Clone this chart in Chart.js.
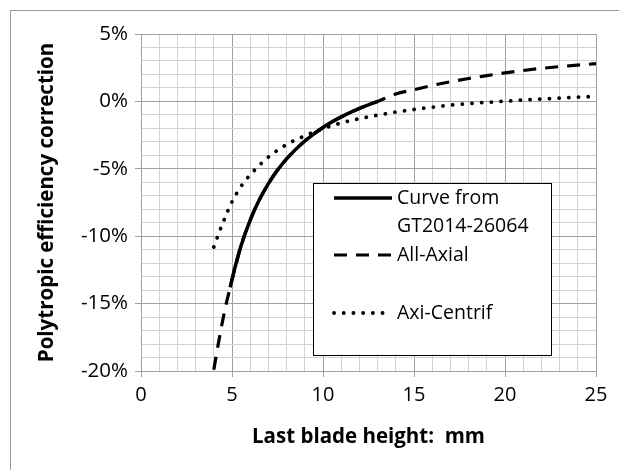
<!DOCTYPE html>
<html>
<head>
<meta charset="utf-8">
<script src="https://cdn.jsdelivr.net/npm/chart.js@4/dist/chart.umd.min.js"></script>
<style>
  html, body { margin: 0; padding: 0; background: #fff; overflow: hidden; }
  canvas { display: block; }
</style>
</head>
<body>
<canvas id="effChart" width="619" height="470"></canvas>
<script>
// values in percent
const curveX = [4.9, 5, 5.5, 6, 6.5, 7, 7.5, 8, 9, 10, 11, 12, 13];
const curveY = [-13.8, -13.2, -10.7, -8.8, -7.3, -6.1, -5.1, -4.26, -2.94, -1.93, -1.15, -0.52, 0];

const axialX = [4, 4.3, 4.6, 4.9, 5.5, 6, 7, 8, 9, 10, 11, 12, 13, 14, 15, 16, 17, 18, 19, 20, 21, 22, 23, 24, 25];
const axialY = [-19.9, -17.6, -15.5, -13.8, -10.7, -8.8, -6.1, -4.26, -2.94, -1.93, -1.15, -0.52, 0, 0.55, 0.86, 1.18, 1.46, 1.70, 1.91, 2.11, 2.29, 2.45, 2.58, 2.69, 2.8];

const centrifX = [4, 4.5, 5, 5.5, 6, 7, 8, 9, 10, 11, 12, 13, 14, 15, 16, 17, 18, 19, 20, 21, 22, 23, 24, 25];
const centrifY = [-10.8, -9.0, -7.45, -6.3, -5.45, -4.13, -3.2, -2.55, -2.02, -1.6, -1.28, -1.02, -0.79, -0.6, -0.43, -0.28, -0.16, -0.07, 0.02, 0.1, 0.18, 0.25, 0.31, 0.37];

const seriesNames = [['Curve from', 'GT2014-26064'], ['All-Axial'], ['Axi-Centrif']];
const xMajorTicks = [0, 5, 10, 15, 20, 25];
const yMajorTicks = [-20, -15, -10, -5, 0, 5];

const FONT = "'Open Sans', 'Liberation Sans', sans-serif";
Chart.defaults.font.family = FONT;
Chart.defaults.color = '#000';

function pts(xs, ys) {
  return xs.map((x, i) => ({ x: x, y: ys[i] }));
}

const majorGrid = '#a0a0a0';
const minorGrid = '#d2d2d2';

// light frame round the whole chart
const frame = {
  id: 'frame',
  beforeDraw(chart) {
    const c = chart.ctx;
    c.save();
    c.strokeStyle = '#999';
    c.lineWidth = 1;
    c.strokeRect(10.5, 10.5, 800, 800);
    c.restore();
  }
};

// boxed legend inside the plot
const legendBox = {
  id: 'legendBox',
  afterDraw(chart) {
    const c = chart.ctx;
    const bx = 313, by = 183, bw = 238, bh = 172;
    c.save();
    c.fillStyle = '#fff';
    c.fillRect(bx, by, bw, bh);
    c.strokeStyle = '#000';
    c.lineWidth = 1;
    c.strokeRect(bx + 0.5, by + 0.5, bw, bh);

    const rows = [198, 255, 313];
    c.font = '19.5px ' + FONT;
    c.textBaseline = 'middle';
    c.textAlign = 'left';
    chart.data.datasets.forEach((ds, i) => {
      const y = rows[i];
      c.beginPath();
      c.setLineDash(ds.borderDash || []);
      c.lineCap = ds.borderCapStyle || 'butt';
      c.lineWidth = ds.borderWidth;
      c.strokeStyle = ds.borderColor;
      c.moveTo(334, y);
      c.lineTo(392, y);
      c.stroke();
      c.setLineDash([]);
      c.fillStyle = '#000';
      seriesNames[i].forEach((line, k) => c.fillText(line, 397, y + k * 28));
    });
    c.restore();
  }
};

const isMajorX = v => xMajorTicks.includes(v);
const isMajorY = v => yMajorTicks.includes(v);

new Chart(document.getElementById('effChart'), {
  type: 'line',
  data: {
    datasets: [
      {
        label: seriesNames[0].join(' '),
        data: pts(curveX, curveY),
        borderColor: '#000',
        borderWidth: 3.5,
        pointRadius: 0,
        cubicInterpolationMode: 'monotone'
      },
      {
        label: seriesNames[1].join(' '),
        data: pts(axialX, axialY),
        borderColor: '#000',
        borderWidth: 3.2,
        borderDash: [13, 9],
        pointRadius: 0,
        cubicInterpolationMode: 'monotone'
      },
      {
        label: seriesNames[2].join(' '),
        data: pts(centrifX, centrifY),
        borderColor: '#000',
        borderWidth: 3.8,
        borderDash: [0.1, 9.6],
        borderCapStyle: 'round',
        pointRadius: 0,
        cubicInterpolationMode: 'monotone'
      }
    ]
  },
  options: {
    responsive: false,
    animation: false,
    layout: { padding: { left: 10, top: 34, right: 23, bottom: 0 } },
    plugins: { legend: { display: false }, tooltip: { enabled: false } },
    scales: {
      x: {
        type: 'linear',
        min: 0,
        max: 25,
        afterFit: s => { s.height = 99; },
        ticks: {
          stepSize: 1,
          autoSkip: false,
          maxRotation: 0,
          padding: 6,
          font: { size: 20 },
          callback: v => isMajorX(v) ? String(v) : ''
        },
        grid: {
          color: c => isMajorX(c.tick.value) ? majorGrid : minorGrid,
          tickColor: c => isMajorX(c.tick.value) ? majorGrid : 'rgba(0,0,0,0)',
          tickLength: 6
        },
        border: { color: majorGrid },
        title: {
          display: true,
          text: 'Last blade height:  mm',
          font: { size: 20.5, weight: 'bold' },
          padding: { top: 0, bottom: 21 }
        }
      },
      y: {
        min: -20,
        max: 5,
        afterFit: s => { s.width = 131; },
        ticks: {
          stepSize: 1,
          autoSkip: false,
          padding: 7,
          font: { size: 20.5 },
          callback: v => isMajorY(v) ? v + '%' : ''
        },
        grid: {
          color: c => isMajorY(c.tick.value) ? majorGrid : minorGrid,
          tickColor: c => isMajorY(c.tick.value) ? majorGrid : 'rgba(0,0,0,0)',
          tickLength: 6
        },
        border: { color: majorGrid },
        title: {
          display: true,
          text: 'Polytropic efficiency correction',
          font: { size: 20.5, weight: 'bold' },
          padding: { top: 25, bottom: 0 }
        }
      }
    }
  },
  plugins: [frame, legendBox]
});
</script>
</body>
</html>
